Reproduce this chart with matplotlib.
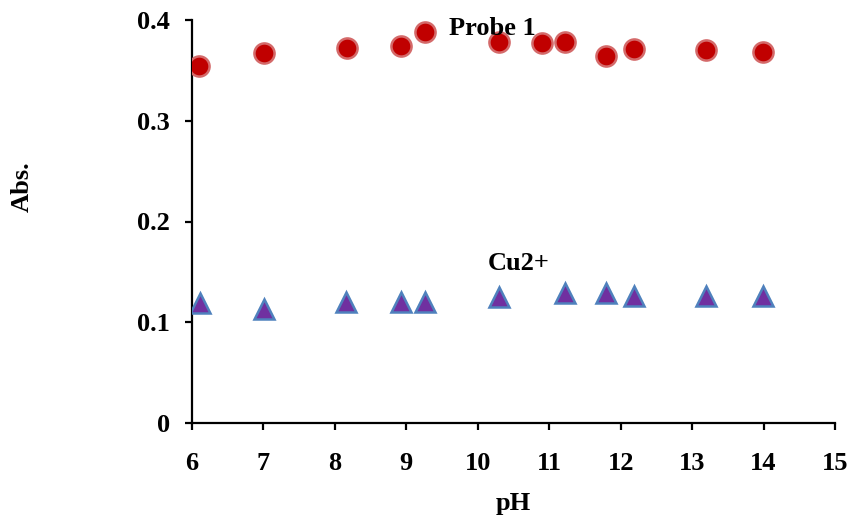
import matplotlib
matplotlib.use("Agg")
import matplotlib.pyplot as plt

# pH values and absorbance
probe_ph = [6.10, 7.01, 8.17, 8.92, 9.26, 10.30, 10.90, 11.22, 11.79, 12.19, 13.19, 13.99]
probe_abs = [0.354, 0.367, 0.372, 0.374, 0.388, 0.378, 0.377, 0.378, 0.364, 0.371, 0.370, 0.368]

cu_ph = [6.11, 7.01, 8.16, 8.92, 9.26, 10.30, 11.22, 11.80, 12.19, 13.19, 13.99]
cu_abs = [0.119, 0.113, 0.120, 0.120, 0.120, 0.125, 0.129, 0.129, 0.126, 0.126, 0.126]

x_ticks = list(range(6, 16))
y_ticks = [0, 0.1, 0.2, 0.3, 0.4]
y_tick_labels = ["0", "0.1", "0.2", "0.3", "0.4"]

plt.rcParams["font.family"] = ["Liberation Serif", "DejaVu Serif"]
plt.rcParams["font.weight"] = "bold"
FS = 19

fig = plt.figure(figsize=(8.5, 5.21), dpi=100)
ax = fig.add_axes([192 / 850, 1 - 423 / 521, (835 - 192) / 850, (423 - 20) / 521])

ax.plot(probe_ph, probe_abs, "o", ms=14.5, mfc="#C00000", mec="#D46A6A", mew=1.8, zorder=3)
ax.plot(cu_ph, cu_abs, "^", ms=15, mfc="#7030A0", mec="#4F81BD", mew=1.8, zorder=3)

ax.set_xlim(6, 15)
ax.set_ylim(0, 0.4)
ax.set_xticks(x_ticks)
ax.set_yticks(y_ticks)
ax.set_yticklabels(y_tick_labels)

for side in ["top", "right"]:
    ax.spines[side].set_visible(False)
for side in ["left", "bottom"]:
    ax.spines[side].set_linewidth(1.6)
ax.tick_params(direction="out", length=5, width=1.6, labelsize=FS)
ax.tick_params(axis="y", pad=11)
ax.tick_params(axis="x", pad=16)

ax.text(9.6, 0.392, "Probe 1", fontsize=FS, fontweight="bold", va="center", ha="left")
ax.text(10.145, 0.158, "Cu2+", fontsize=FS, fontweight="bold", va="center", ha="left")

ax.set_xlabel("pH", fontsize=FS, fontweight="bold", labelpad=12)
fig.text(22 / 850, 1 - 187 / 521, "Abs.", rotation=90, fontsize=FS,
         fontweight="bold", ha="center", va="center")

for lbl in ax.get_xticklabels() + ax.get_yticklabels():
    lbl.set_fontweight("bold")

fig.savefig("out.png", dpi=100)
